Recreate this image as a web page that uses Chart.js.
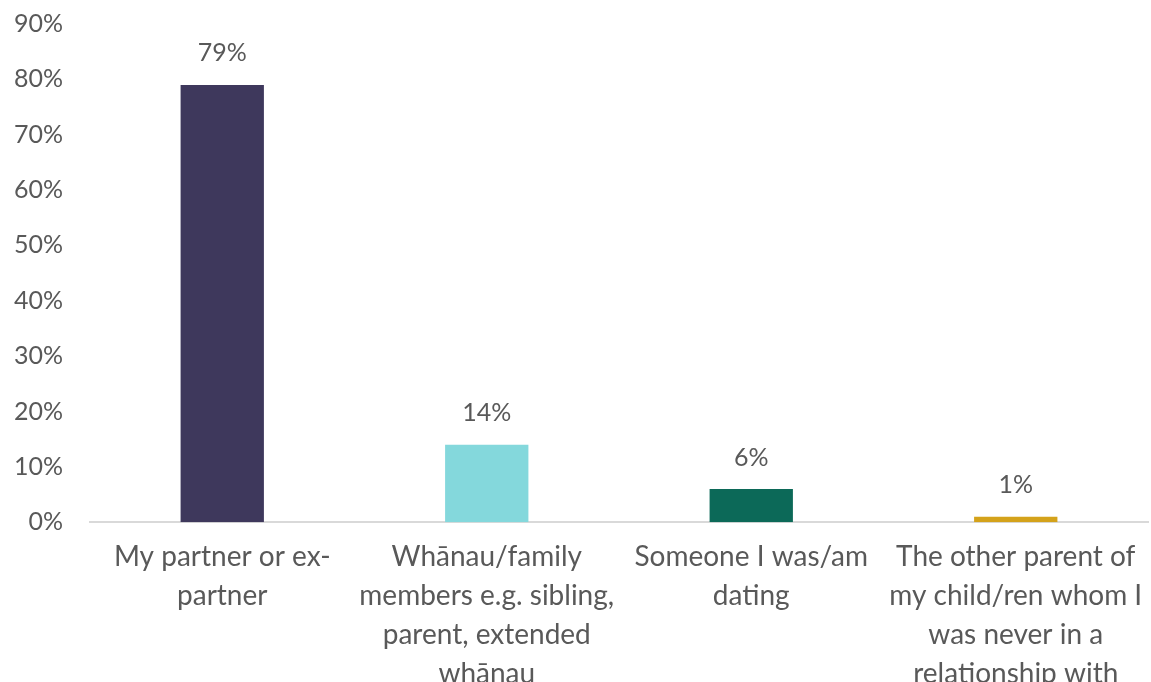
<!DOCTYPE html>
<html>
<head>
<meta charset="utf-8">
<script src="https://cdn.jsdelivr.net/npm/chart.js@4"></script>
<style>
  html, body { margin: 0; padding: 0; background: #fff; overflow: hidden; }
  #wrap { width: 1151px; height: 727px; position: relative; margin-top: -18px; }
</style>
</head>
<body>
<div id="wrap"><canvas id="perpChart"></canvas></div>
<script>
const categories = [
  ['My partner or ex-', 'partner'],
  ['Whānau/family', 'members e.g. sibling,', 'parent, extended', 'whānau'],
  ['Someone I was/am', 'dating'],
  ['The other parent of', 'my child/ren whom I', 'was never in a', 'relationship with']
];
const values = [79, 14, 6, 1];
const barColours = ['#3e385c', '#84d8dc', '#0c6958', '#d4a21a'];
const yTicks = [0, 10, 20, 30, 40, 50, 60, 70, 80, 90];

const textGrey = '#595959';
const fontFamily = 'Lato, "Open Sans", sans-serif';

// value labels above each bar
const valueLabels = {
  id: 'valueLabels',
  afterDatasetsDraw(chart) {
    const { ctx } = chart;
    const meta = chart.getDatasetMeta(0);
    ctx.save();
    ctx.font = '25px ' + fontFamily;
    ctx.fillStyle = textGrey;
    ctx.textAlign = 'center';
    ctx.textBaseline = 'bottom';
    meta.data.forEach((bar, i) => {
      ctx.fillText(values[i] + '%', bar.x, bar.y - 19);
    });
    ctx.restore();
  }
};

new Chart(document.getElementById('perpChart'), {
  type: 'bar',
  data: {
    labels: categories,
    datasets: [{
      data: values,
      backgroundColor: barColours,
      borderWidth: 0,
      categoryPercentage: 1,
      barPercentage: 0.315
    }]
  },
  options: {
    responsive: true,
    maintainAspectRatio: false,
    animation: false,
    layout: { padding: { top: 0, right: 3, left: 0, bottom: 0 } },
    plugins: { legend: { display: false }, tooltip: { enabled: false } },
    scales: {
      x: {
        // labels fit inside their slots, so no extra side padding
        afterFit: s => { s.paddingLeft = 0; s.paddingRight = 0; },
        grid: { display: false, drawTicks: false },
        border: { display: true, color: '#d9d9d9', width: 2 },
        ticks: {
          color: textGrey,
          font: { family: fontFamily, size: 28, lineHeight: 1.4 },
          padding: 15,
          maxRotation: 0,
          autoSkip: false
        }
      },
      y: {
        min: 0,
        max: 90,
        afterFit: s => { s.width = 90; },
        afterBuildTicks: s => { s.ticks = yTicks.map(v => ({ value: v })); },
        grid: { display: false, drawTicks: false },
        border: { display: false },
        ticks: {
          color: textGrey,
          font: { family: fontFamily, size: 25 },
          padding: 27,
          callback: v => v + '%'
        }
      }
    }
  },
  plugins: [valueLabels]
});
</script>
</body>
</html>
